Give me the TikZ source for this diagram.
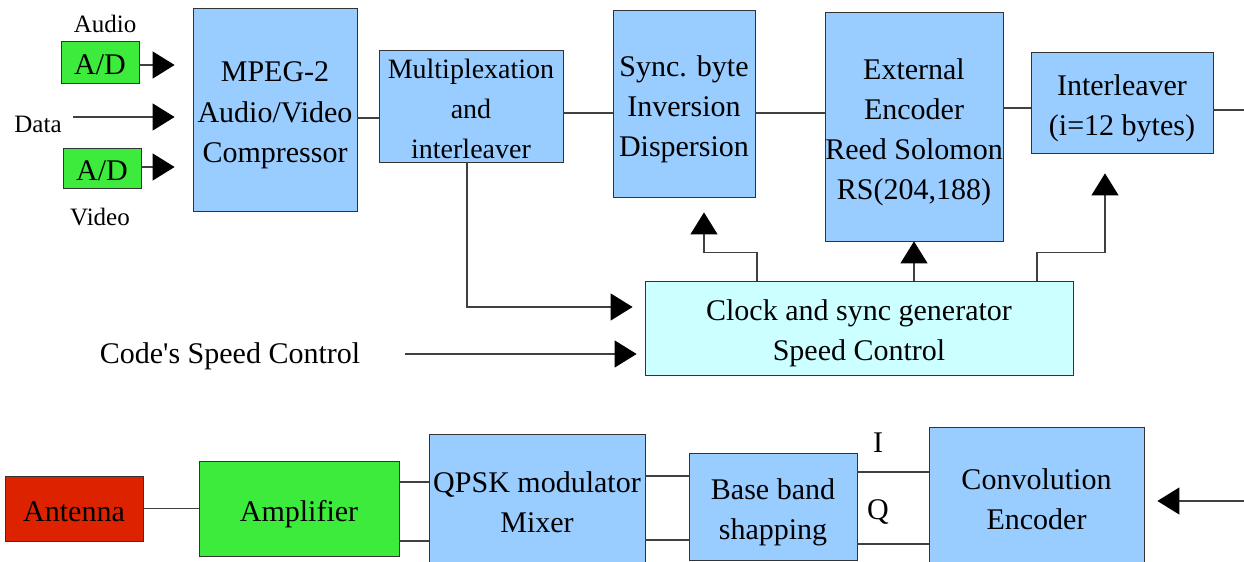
\documentclass[tikz,border=0pt]{standalone}
\usepackage{fontspec}
\setmainfont{Liberation Serif}
\usetikzlibrary{arrows.meta}
\definecolor{bleu}{HTML}{99CCFF}
\definecolor{cyanclair}{HTML}{CCFFFF}
\definecolor{vert}{HTML}{3DEB3D}
\definecolor{rouge}{HTML}{DD2200}

\begin{document}
\begin{tikzpicture}[x=0.5pt,y=-0.5pt]
      \tikzstyle{bloc}=[draw=black!80,fill=bleu,align=center,inner sep=0pt,font=\fontsize{15}{20}\selectfont,
        text depth=0pt,text height=12.5pt]
      \tikzstyle{deux}=[text height=32.5pt]
      \tikzstyle{trois}=[text height=52.5pt]
      \tikzstyle{quatre}=[text height=72.5pt]
      \tikzstyle{etiq}=[inner sep=2pt,font=\fontsize{12.5}{15}\selectfont]
      \tikzstyle{ligne}=[draw=black!75,line width=0.6pt]
      \tikzstyle{arrow}=[ligne,-{Triangle[length=11pt,width=13.5pt,color=black]}]
      \useasboundingbox (0,0) rectangle (1244,562);
      % chaine d'emission
      \node[bloc,fill=vert,minimum width=39pt,minimum height=21pt] (adA) at (100,62) {A/D};
      \node[bloc,fill=vert,minimum width=39pt,minimum height=20pt] (adV) at (102,168) {A/D};
      \node[etiq] (audio) at (105,24) {Audio};
      \node[etiq] (data) at (38,124) {Data};
      \node[etiq] (video) at (100,217) {Video};
      \coordinate (din) at (73,117);
      \node[bloc,trois,minimum width=82pt,minimum height=101.5pt] (mpeg) at (275,109.5) {MPEG-2\\Audio/Video\\Compressor};
      \node[bloc,trois,minimum width=92pt,minimum height=56pt,font=\fontsize{14}{20}\selectfont] (mux) at (471,106) {Multiplexation\\and\\interleaver};
      \node[bloc,trois,minimum width=71pt,minimum height=93.5pt] (sync) at (684,103.5) {Sync. byte\\Inversion\\Dispersion};
      \node[bloc,quatre,minimum width=89pt,minimum height=114.5pt] (ext) at (914,126.5) {External\\Encoder\\Reed Solomon\\RS(204,188)};
      \node[bloc,deux,minimum width=91pt,minimum height=50.5pt] (intl) at (1122,102.5) {Interleaver\\(i=12 bytes)};
      \node[bloc,deux,fill=cyanclair,minimum width=214pt,minimum height=47pt] (clk) at (859,328) {Clock and sync generator\\Speed Control};
      \node[bloc,draw=none,fill=none] (code) at (230,351) {Code\textquotesingle s Speed Control};
      \coordinate (cin) at (405,354);
      \coordinate (sortie) at (1244,110);
      % chaine de modulation
      \node[bloc,fill=rouge,minimum width=69pt,minimum height=32.5pt] (ant) at (74,508.5) {Antenna};
      \node[bloc,fill=vert,minimum width=100pt,minimum height=47.5pt] (amp) at (299,508.5) {Amplifier};
      \node[bloc,deux,minimum width=108pt,minimum height=66pt] (qpsk) at (537,500) {QPSK modulator\\Mixer};
      \node[bloc,deux,minimum width=84pt,minimum height=53.5pt] (base) at (773,506.5) {Base band\\shapping};
      \node[bloc,deux,minimum width=107.5pt,minimum height=70pt] (conv) at (1036.5,497) {Convolution\\Encoder};
      \node[bloc,draw=none,fill=none] (voieI) at (878,440) {I};
      \node[bloc,draw=none,fill=none] (voieQ) at (878,507) {Q};
      \coordinate (cenc) at (1244,501);
      \draw[arrow,shorten >=9pt] (adA.east |- 0,65) -- (mpeg.west |- 0,65);
      \draw[arrow,shorten >=9pt] (din) -- (din -| mpeg.west);
      \draw[arrow,shorten >=9pt] (adV.east |- 0,167) -- (mpeg.west |- 0,167);
      \draw[ligne] (mpeg.east |- 0,118) -- (mux.west |- 0,118);
      \draw[ligne] (mux.east |- 0,113) -- (sync.west |- 0,113);
      \draw[ligne] (sync.east |- 0,113) -- (ext.west |- 0,113);
      \draw[ligne] (ext.east |- 0,108) -- (intl.west |- 0,108);
      \draw[ligne] (intl.east |- sortie) -- (sortie);
      \draw[arrow,shorten >=6pt] (mux.south -| 467,0) |- (clk.west |- 0,307);
      \draw[arrow,shorten >=4pt] (cin) -- (cin -| clk.west);
      \draw[arrow] (clk.north -| 757,0) -- ++(0,-28) -| ([xshift=10pt,yshift=-7.5pt]sync.south);
      \draw[arrow] (clk.north -| ext.south) -- (ext.south);
      \draw[arrow] (clk.north -| 1037,0) -- ++(0,-28) -| ([xshift=-8.5pt,yshift=-10pt]intl.south);
      \draw[ligne] (ant) -- (amp);
      \draw[ligne] (amp.east |- 0,482) -- (qpsk.west |- 0,482);
      \draw[ligne] (amp.east |- 0,541) -- (qpsk.west |- 0,541);
      \draw[ligne] (qpsk.east |- 0,476) -- (base.west |- 0,476);
      \draw[ligne] (qpsk.east |- 0,540) -- (base.west |- 0,540);
      \draw[ligne] (base.east |- 0,472) -- (conv.west |- 0,472);
      \draw[ligne] (base.east |- 0,544) -- (conv.west |- 0,544);
      \draw[arrow,shorten >=6.5pt] (cenc) -- (cenc -| conv.east);
    \end{tikzpicture}
\end{document}
